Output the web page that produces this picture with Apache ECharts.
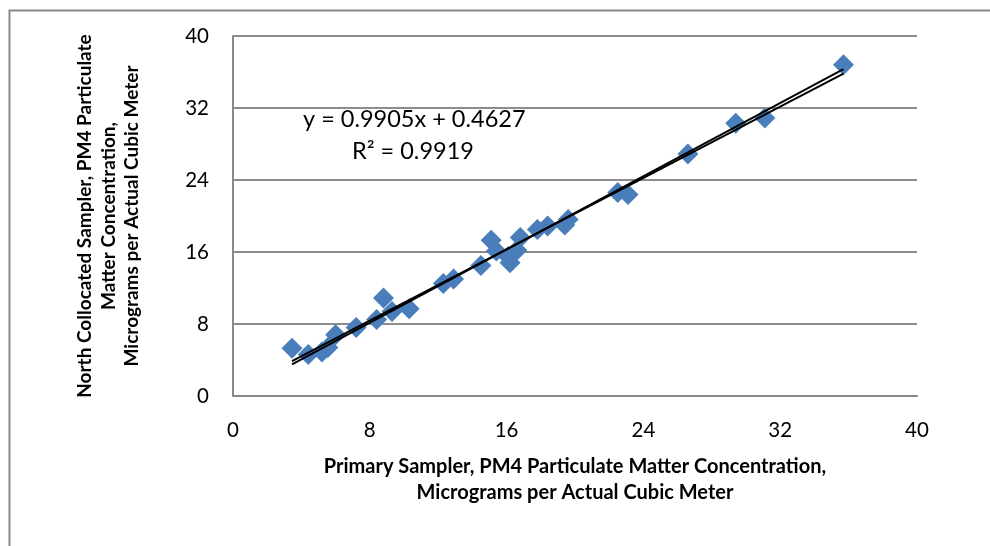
<!DOCTYPE html>
<html>
<head>
<meta charset="utf-8">
<script src="https://cdn.jsdelivr.net/npm/echarts@6/dist/echarts.min.js"></script>
<style>
html,body{margin:0;padding:0;background:#fff;}
#chart{width:990px;height:546px;}
</style>
</head>
<body>
<div id="chart"></div>
<script>
// Primary sampler (x) vs North collocated sampler (y), µg/m³
var primaryX = [3.45, 4.4, 5.2, 5.55, 6.0, 7.2, 8.4, 8.8, 9.3, 10.3, 12.3, 12.9, 14.5, 15.1, 15.4, 16.1, 16.2, 16.6, 16.8, 17.8, 18.4, 19.4, 19.6, 22.5, 23.1, 26.6, 29.4, 31.1, 35.7];
var northY   = [5.3, 4.6, 4.9, 5.4, 6.8, 7.6, 8.5, 10.9, 9.4, 9.7, 12.5, 13.0, 14.5, 17.3, 16.1, 15.5, 14.8, 16.2, 17.6, 18.5, 18.9, 19.0, 19.6, 22.6, 22.4, 26.9, 30.3, 30.9, 36.8];
var trendSlope = 0.9905, trendIntercept = 0.4627;
var refSlope = 1.017, refIntercept = 0;
var xTicks = [0, 8, 16, 24, 32, 40];
var yTicks = [0, 8, 16, 24, 32, 40];
var eqLine1 = 'y = 0.9905x + 0.4627';
var eqLine2 = 'R\u00B2 = 0.9919';

var pts = primaryX.map(function(x, i){ return [x, northY[i]]; });
var xmin = Math.min.apply(null, primaryX), xmax = Math.max.apply(null, primaryX);
var trend = [[xmin, trendSlope*xmin+trendIntercept],[xmax, trendSlope*xmax+trendIntercept]];
var ref = [[xmin, refSlope*xmin+refIntercept],[xmax, refSlope*xmax+refIntercept]];

var FONT = 'Lato, "Open Sans", sans-serif';
var chart = echarts.init(document.getElementById('chart'));
chart.setOption({
  animation: false,
  backgroundColor: '#fff',
  grid: {left: 233, right: 73, top: 36, bottom: 150},
  xAxis: {
    type: 'value', min: xTicks[0], max: xTicks[xTicks.length-1], interval: xTicks[1]-xTicks[0],
    axisLine: {show: true, lineStyle: {color: '#888', width: 2}},
    axisTick: {show: false},
    splitLine: {show: false},
    axisLabel: {color: '#000', fontSize: 20.5, fontFamily: FONT, margin: 24},
    name: 'Primary Sampler, PM4 Particulate Matter Concentration,\nMicrograms per Actual Cubic Meter',
    nameLocation: 'middle', nameGap: 58,
    nameTextStyle: {color: '#000', fontSize: 20, fontWeight: 'bold', fontFamily: FONT, lineHeight: 26}
  },
  yAxis: {
    type: 'value', min: yTicks[0], max: yTicks[yTicks.length-1], interval: yTicks[1]-yTicks[0],
    axisLine: {show: true, lineStyle: {color: '#888', width: 2}},
    axisTick: {show: false},
    splitLine: {show: true, lineStyle: {color: '#8c8c8c', width: 2}},
    axisLabel: {color: '#000', fontSize: 20.5, fontFamily: FONT, margin: 24},
    name: 'North Collocated Sampler, PM4 Particulate\nMatter Concentration,\nMicrograms per Actual Cubic Meter',
    nameLocation: 'middle', nameGap: 89, nameRotate: 90,
    nameTextStyle: {color: '#000', fontSize: 19, fontWeight: 'bold', fontFamily: FONT, lineHeight: 23.5}
  },
  graphic: [
    {type: 'rect', left: 7, top: 8, z: -10, silent: true,
     shape: {width: 1100, height: 700}, style: {fill: 'none', stroke: '#8a8a8a', lineWidth: 2}},
    {type: 'text', left: 303, top: 107, style: {text: eqLine1, font: '23.5px ' + FONT, fill: '#000'}},
    {type: 'text', left: 352, top: 139, style: {text: eqLine2, font: '23.5px ' + FONT, fill: '#000'}}
  ],
  series: [
    {type: 'scatter', data: pts, symbol: 'diamond', symbolSize: 21,
     itemStyle: {color: '#4a7ebb', opacity: 1}, z: 2},
    {type: 'line', data: ref, symbol: 'none', lineStyle: {color: '#000', width: 2}, z: 3},
    {type: 'line', data: trend, symbol: 'none', lineStyle: {color: '#000', width: 2}, z: 3}
  ]
});
</script>
</body>
</html>
